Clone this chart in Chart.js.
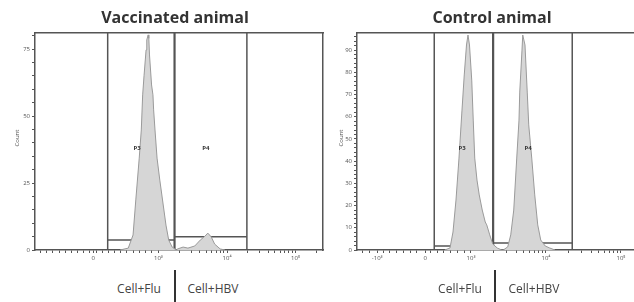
<!DOCTYPE html>
<html><head><meta charset="utf-8">
<script src="https://cdn.jsdelivr.net/npm/chart.js@4"></script>
<style>
html,body{margin:0;padding:0;width:634px;height:302px;overflow:hidden;background:#fff;font-family:"Open Sans",sans-serif;position:relative;}
.box{position:absolute;top:0;}
.title{position:absolute;top:6px;font-weight:bold;font-size:16px;line-height:22px;color:#333;transform:translateX(-50%);white-space:nowrap;}
.lab{position:absolute;top:281px;font-size:12px;line-height:16px;color:#444;transform:translateX(-50%);white-space:nowrap;}
.sep{position:absolute;top:270px;width:2px;height:32px;background:#333;}
.count{position:absolute;font-size:6px;color:#555;transform:translate(-50%,-50%) rotate(-90deg);}
</style></head>
<body>
<div class="box" style="left:0;width:330px;height:270px"><canvas id="c1" width="330" height="270"></canvas></div>
<div class="box" style="left:320px;width:340px;height:270px"><canvas id="c2" width="340" height="270"></canvas></div>
<div class="title" style="left:175px">Vaccinated animal</div>
<div class="title" style="left:492px">Control animal</div>
<div class="count" style="left:17px;top:138px">Count</div>
<div class="count" style="left:341px;top:138px">Count</div>
<div class="lab" style="left:139px">Cell+Flu</div>
<div class="sep" style="left:174px"></div>
<div class="lab" style="left:213px">Cell+HBV</div>
<div class="lab" style="left:460px">Cell+Flu</div>
<div class="sep" style="left:494px"></div>
<div class="lab" style="left:534px">Cell+HBV</div>
<script>
// ---- Data (x in log10 display units of fluorescence, y in counts) ----
// Vaccinated animal histogram
const vacX = [2.44,2.56,2.63,2.67,2.72,2.75,2.77,2.79,2.82,2.83,2.85,2.86,2.87,2.90,2.92,2.93,2.95,2.98,3.02,3.07,3.11,3.15,3.20,3.26,
              3.28,3.36,3.43,3.53,3.61,3.68,3.72,3.77,3.82,3.90,3.97];
const vacY = [0,0.7,5.6,18.7,34.3,44.8,57.9,65,74.7,78.4,80.3,79,72.8,61.6,57.9,52.3,44.8,34.3,26.1,16.8,9.3,3.7,1.1,0,
              0.4,1.1,0.7,1.5,3.7,5.2,6.3,4.9,2.2,0.4,0];
// Control animal histogram
const ctlX = [2.65,2.72,2.76,2.80,2.84,2.88,2.91,2.94,2.96,2.98,3.01,3.03,3.05,3.08,3.11,3.15,3.19,3.21,3.25,3.29,3.35,3.41,
              3.43,3.49,3.53,3.57,3.61,3.64,3.65,3.68,3.69,3.72,3.75,3.77,3.81,3.85,3.89,3.93,3.99,4.05,4.12];
const ctlY = [0,0.9,8.1,22.5,41.4,63,78.8,92.3,96.8,92.3,76.5,58.5,41.4,31.5,24.8,18,12.6,11.3,6.8,2.7,0.9,0,
              0,1.4,6.8,18,41.4,58.5,71.1,90,96.8,92.3,71.1,56.3,41.4,24.8,11.3,4.5,1.8,0.9,0];
// Gates: [from, to, level]
const vacGateP3 = [2.26, 3.23, 3.7];
const vacGateP4 = [3.24, 4.29, 4.9];
const ctlGateP3 = [2.51, 3.29, 1.8];
const ctlGateP4 = [3.30, 4.35, 3.2];
const gateNames = ["P3", "P4"];
const vacGateLabelPos = [[2.69, 38], [3.69, 38]];
const ctlGateLabelPos = [[2.88, 46], [3.76, 46]];
// Axes
const vacYMajor = [0, 25, 50, 75];
const ctlYMajor = [0, 10, 20, 30, 40, 50, 60, 70, 80, 90];
const vacXTickVals = [2.05, 3, 4, 5];
const vacXTickLabels = ["0", "10³", "10⁴", "10⁵"];
const ctlXTickVals = [1.75, 2.39, 3, 4, 5];
const ctlXTickLabels = ["-10³", "0", "10³", "10⁴", "10⁵"];

const AX = '#555';
const gateLabelPlugin = {
  id: 'gateLabels',
  afterDatasetsDraw(chart, args, opts) {
    const {ctx, scales: {x, y}} = chart;
    ctx.save();
    ctx.font = 'bold 6px "Open Sans"';
    ctx.fillStyle = '#333';
    ctx.textAlign = 'center';
    ctx.textBaseline = 'middle';
    opts.items.forEach((p, i) => ctx.fillText(gateNames[i], x.getPixelForValue(p[0]), y.getPixelForValue(p[1])));
    ctx.restore();
  }
};

function pts(xs, ys) { return xs.map((v, i) => ({x: v, y: ys[i]})); }
function gateSets(g, ymax) {
  const st = {type: 'line', borderColor: '#555', borderWidth: 1.5, pointRadius: 0, fill: false, tension: 0};
  return [
    Object.assign({data: [{x: g[0], y: 0}, {x: g[0], y: ymax}]}, st),
    Object.assign({data: [{x: g[1], y: 0}, {x: g[1], y: ymax}]}, st),
    Object.assign({data: [{x: g[0], y: g[2]}, {x: g[1], y: g[2]}]}, st)
  ];
}
function xMinor(min, max, zeroVal) {
  const t = [];
  for (let v = min + 0.08; v < zeroVal - 0.05; v += 0.09) t.push(v);
  for (let d = 2; d <= 5; d++) for (let k = 1; k <= 9; k++) {
    const v = d + Math.log10(k);
    if (v > zeroVal + 0.15 && v < max) t.push(v);
  }
  return t;
}

function make(id, o) {
  const xTicks = o.xTickVals.concat(xMinor(o.xmin, o.xmax, o.xTickVals[o.xTickVals.length - 3]).filter(v => !o.xTickVals.some(m => Math.abs(m - v) < 0.03)));
  const yTicks = [];
  for (let v = 0; v <= o.ymax; v += o.yMinorStep) yTicks.push(+v.toFixed(3));
  new Chart(document.getElementById(id), {
    type: 'line',
    data: {datasets: [
      {data: pts(o.hx, o.hy), borderColor: '#9a9a9a', borderWidth: 1, backgroundColor: '#d6d6d6', fill: 'origin', pointRadius: 0, tension: 0},
      ...gateSets(o.g1, o.ymax), ...gateSets(o.g2, o.ymax)
    ]},
    options: {
      responsive: false, animation: false, events: [],
      layout: {padding: {top: 33, left: 0, right: o.padRight, bottom: 0}},
      plugins: {legend: {display: false}, tooltip: {enabled: false}, gateLabels: {items: o.labelPos}},
      scales: {
        x: {
          type: 'linear', position: 'bottom', min: o.xmin, max: o.xmax,
          afterBuildTicks(s) { s.ticks = xTicks.map(v => ({value: v})); },
          afterFit(s) { s.height = 20; s.paddingLeft = 0; s.paddingRight = 0; },
          ticks: {autoSkip: false, maxRotation: 0, minRotation: 0, font: {size: 6, family: 'Open Sans'}, color: '#555', padding: 2,
            callback(v) { const i = o.xTickVals.indexOf(v); return i >= 0 ? o.xTickLabels[i] : ''; }},
          grid: {drawOnChartArea: false, tickLength: 3, tickColor: AX, tickWidth: 1},
          border: {color: AX, width: 1.5}
        },
        xt: {
          type: 'linear', position: 'top', min: o.xmin, max: o.xmax,
          afterFit(s) { s.height = 0; s.paddingLeft = 0; s.paddingRight = 0; },
          ticks: {display: false}, grid: {display: false}, border: {color: AX, width: 1.5}
        },
        y: {
          type: 'linear', position: 'left', min: 0, max: o.ymax,
          afterBuildTicks(s) { s.ticks = yTicks.map(v => ({value: v})); },
          afterFit(s) { s.width = o.yWidth; s.paddingTop = 0; s.paddingBottom = 0; },
          ticks: {autoSkip: false, font: {size: 6, family: 'Open Sans'}, color: '#555', padding: 2,
            callback(v) { return o.yMajor.includes(v) ? String(v) : ''; }},
          grid: {drawOnChartArea: false, tickLength: 3, tickColor: AX},
          border: {color: AX, width: 1.5}
        },
        yr: {
          type: 'linear', position: 'right', min: 0, max: o.ymax,
          afterFit(s) { s.width = 0; s.paddingTop = 0; s.paddingBottom = 0; },
          ticks: {display: false}, grid: {display: false}, border: {color: AX, width: 1.5}
        }
      }
    },
    plugins: [gateLabelPlugin]
  });
}

make('c1', {hx: vacX, hy: vacY, g1: vacGateP3, g2: vacGateP4, labelPos: vacGateLabelPos,
  xmin: 1.2, xmax: 5.4, ymax: 81, yMinorStep: 5, yMajor: vacYMajor, xTickVals: vacXTickVals, xTickLabels: vacXTickLabels,
  yWidth: 35, padRight: 7});
make('c2', {hx: ctlX, hy: ctlY, g1: ctlGateP3, g2: ctlGateP4, labelPos: ctlGateLabelPos,
  xmin: 1.48, xmax: 5.387, ymax: 97.7, yMinorStep: 2, yMajor: ctlYMajor, xTickVals: ctlXTickVals, xTickLabels: ctlXTickLabels,
  yWidth: 37, padRight: 10});
</script>
</body></html>
